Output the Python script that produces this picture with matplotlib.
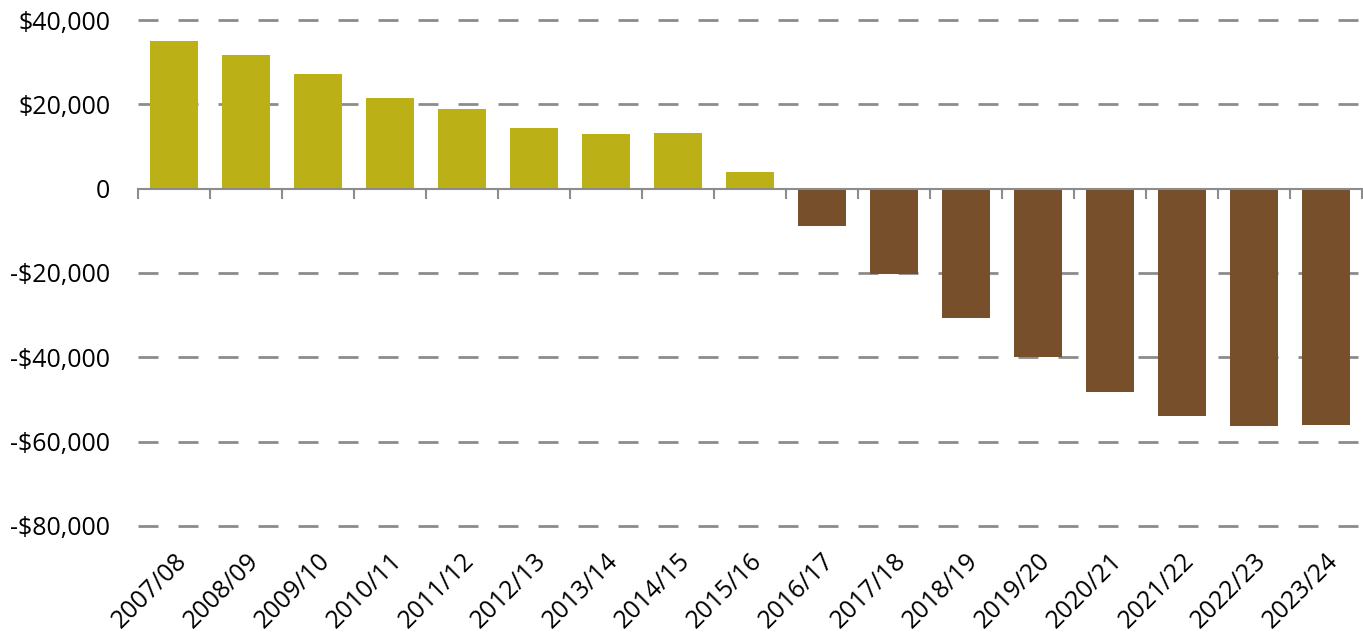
import matplotlib.pyplot as plt
import matplotlib.transforms as mtransforms

plt.rcParams['font.family'] = ['Open Sans', 'DejaVu Sans']

years = ['2007/08', '2008/09', '2009/10', '2010/11', '2011/12', '2012/13',
         '2013/14', '2014/15', '2015/16', '2016/17', '2017/18', '2018/19',
         '2019/20', '2020/21', '2021/22', '2022/23', '2023/24']
values = [34950, 31700, 27300, 21600, 18970, 14470, 13040, 13120, 3950,
          -8900, -20200, -30600, -39850, -48150, -54050, -56200, -55950]
yticks = [40000, 20000, 0, -20000, -40000, -60000, -80000]
ytick_labels = ['$40,000', '$20,000', '0', '-$20,000', '-$40,000', '-$60,000', '-$80,000']

pos_color = '#BBB016'
neg_color = '#774F2B'
grid_color = '#8C8C8C'

fig = plt.figure(figsize=(13.63, 6.39), dpi=100)
ax = fig.add_axes([0.1012, 0.177, 0.898, 0.7917])

xs = list(range(len(years)))
colors = [pos_color if v >= 0 else neg_color for v in values]
ax.bar(xs, values, width=0.67, color=colors, zorder=3)

ax.set_xlim(-0.5, len(years) - 0.5)
ax.set_ylim(-80000, 40000)

# dashed gridlines (not at zero)
for y in yticks:
    if y != 0:
        ax.plot([-0.5, len(years) - 0.5], [y, y], color=grid_color, lw=2,
                dashes=(7.2, 7.2), zorder=1, clip_on=False)
# zero axis line and category boundary ticks
ax.axhline(0, color=grid_color, lw=1.5, zorder=4)
trans = mtransforms.blended_transform_factory(ax.transData, ax.transAxes)
zero_frac = (0 - (-80000)) / 120000
for b in range(len(years) + 1):
    ax.plot([b - 0.5, b - 0.5], [zero_frac, zero_frac - 0.018], color=grid_color,
            lw=1.5, transform=trans, clip_on=False, zorder=4)

for s in ax.spines.values():
    s.set_visible(False)

ax.set_yticks(yticks)
ax.set_yticklabels(ytick_labels, fontsize=18)
ax.tick_params(axis='y', length=0, pad=20)

ax.set_xticks(xs)
ax.set_xticklabels(years, fontsize=18, rotation=45, ha='right', rotation_mode='anchor')
ax.tick_params(axis='x', length=0, pad=16)

fig.savefig('out.png', dpi=100)
